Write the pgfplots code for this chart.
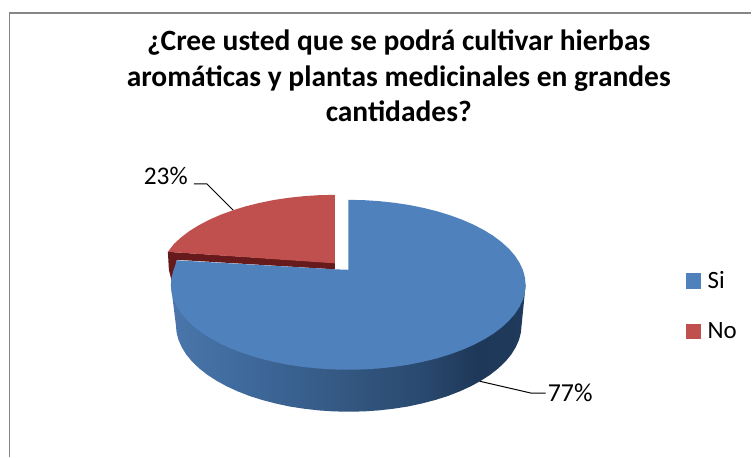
\documentclass[border=0pt]{standalone}
\usepackage{pgfplots}
\pgfplotsset{compat=1.18}
\usepackage{fontspec}
\setmainfont{Carlito}
\definecolor{blueTop}{HTML}{4F81BD}
\definecolor{redTop}{HTML}{C0504D}
\definecolor{redDark}{HTML}{661A1C}
\definecolor{frameGray}{HTML}{868686}
\definecolor{sA}{HTML}{4A76AB}
\definecolor{sB}{HTML}{3F6A9D}
\definecolor{sC}{HTML}{335780}
\definecolor{sD}{HTML}{2A4A70}
\definecolor{sE}{HTML}{1F3859}
\definecolor{sF}{HTML}{1F3A5C}
\pgfdeclarehorizontalshading{pieside}{100bp}{
  color(0bp)=(sA);
  color(25bp)=(sA);
  color(35bp)=(sB);
  color(50bp)=(sC);
  color(60bp)=(sD);
  color(68bp)=(sE);
  color(75bp)=(sF);
  color(100bp)=(sF)}
\begin{document}
\begin{tikzpicture}
\begin{axis}[
  scale only axis, width=752bp, height=457bp,
  xmin=0, xmax=752, ymin=0, ymax=457, y dir=reverse,
  hide axis, clip=false,
  legend style={at={(axis cs:686,270)}, anchor=north west, draw=none, fill=none,
    font=\fontsize{25}{30}\selectfont, row sep=31pt, inner sep=0pt,
    nodes={inner sep=1pt},
    /tikz/every odd column/.append style={column sep=6pt}},
  legend cell align=left,
]
\addlegendimage{only marks, mark=square*, mark size=7.5bp, draw=blueTop, fill=blueTop}
\addlegendentry{Si}
\addlegendimage{only marks, mark=square*, mark size=7.5bp, draw=redTop, fill=redTop}
\addlegendentry{No}
% canvas and frame
\addplot[fill=white, draw=none] coordinates {(0,0) (752,0) (752,457) (0,457)} \closedcycle;
\addplot[draw=frameGray, line width=1.1bp] coordinates {(9.5,457) (9.5,13) (752,13)};
% leader lines
\addplot[black, line width=1bp] coordinates {(194,184) (207,184) (235,212)};
\addplot[black, line width=1bp] coordinates {(480,381.5) (532,393.5) (546,393.5)};
% side of the blue slice
\addplot[draw=none, shade, shading=pieside] coordinates {
(171,285) (526,285) (522,325) (521.3,332.6) (519.4,340.1) (516.1,347.5) (511.6,354.8) (505.8,361.8) (498.8,368.5) (490.7,374.9) (481.5,380.9) (471.3,386.5) (460.2,391.6) (448.2,396.3) (435.5,400.3) (422.1,403.8) (408.2,406.8) (393.8,409) (379,410.7) (364.1,411.7) (349,412)
(333.9,411.7) (319,410.7) (304.2,409) (289.8,406.8) (275.9,403.8) (262.5,400.3) (249.8,396.3) (237.8,391.6) (226.7,386.5) (216.5,380.9) (207.3,374.9) (199.2,368.5) (192.2,361.8) (186.4,354.8) (181.9,347.5) (178.6,340.1) (176.7,332.6) (176,325) (171,285)};
% dark edge of the red slice
\addplot[draw=none, fill=redDark] coordinates {(168,252) (335,263) (335,269.5) (177,260) (172,282) (169,270) (168,252)};
% top of the red slice
\addplot[draw=none, fill=redTop] coordinates {
(335,263.5) (335,195) (319.5,195.3) (304.2,196.3) (289.1,197.9) (274.3,200.1) (260,203) (246.2,206.4) (233.2,210.4) (220.9,214.9) (209.5,219.9) (199,225.4) (189.6,231.2) (181.3,237.5) (174.1,244.1) (168,252) (335,263.5)};
% top of the blue slice
\addplot[draw=none, fill=blueTop] coordinates {
(348.5,270) (348.5,200) (364,200.3) (379.3,201.3) (394.4,202.9) (409.2,205.1) (423.5,208) (437.3,211.4) (450.3,215.4) (462.6,219.9) (474,224.9) (484.5,230.4) (493.9,236.2) (502.2,242.5) (509.4,249.1) (515.3,255.9) (519.9,263) (523.3,270.2) (525.3,277.6) (526,285)
(525.3,292.4) (523.3,299.8) (519.9,307) (515.3,314.1) (509.4,320.9) (502.2,327.5) (493.9,333.8) (484.5,339.6) (474,345.1) (462.6,350.1) (450.3,354.6) (437.3,358.6) (423.5,362) (409.2,364.9) (394.4,367.1) (379.3,368.7) (364,369.7) (348.5,370)
(333,369.7) (317.7,368.7) (302.6,367.1) (287.8,364.9) (273.5,362) (259.7,358.6) (246.7,354.6) (234.4,350.1) (223,345.1) (212.5,339.6) (203.1,333.8) (194.8,327.5) (187.6,320.9) (181.7,314.1) (177.1,307) (173.7,299.8) (171.7,292.4) (171,285) (171.7,277.6) (173.7,270.2) (177,260.5) (335,269.5) (348.5,270)};
% texts
\node[font=\fontsize{29.6}{35.5}\selectfont\bfseries, align=center, anchor=north, inner sep=0pt] at (axis cs:399,30)
  {¿Cree usted que se podrá cultivar hierbas\\aromáticas y plantas medicinales en grandes\\cantidades?};
\node[font=\fontsize{25.5}{30}\selectfont, anchor=east, inner sep=0pt] at (axis cs:188,176) {23\%};
\node[font=\fontsize{26}{30}\selectfont, anchor=west, inner sep=0pt] at (axis cs:548,393) {77\%};
\end{axis}
\end{tikzpicture}
\end{document}
